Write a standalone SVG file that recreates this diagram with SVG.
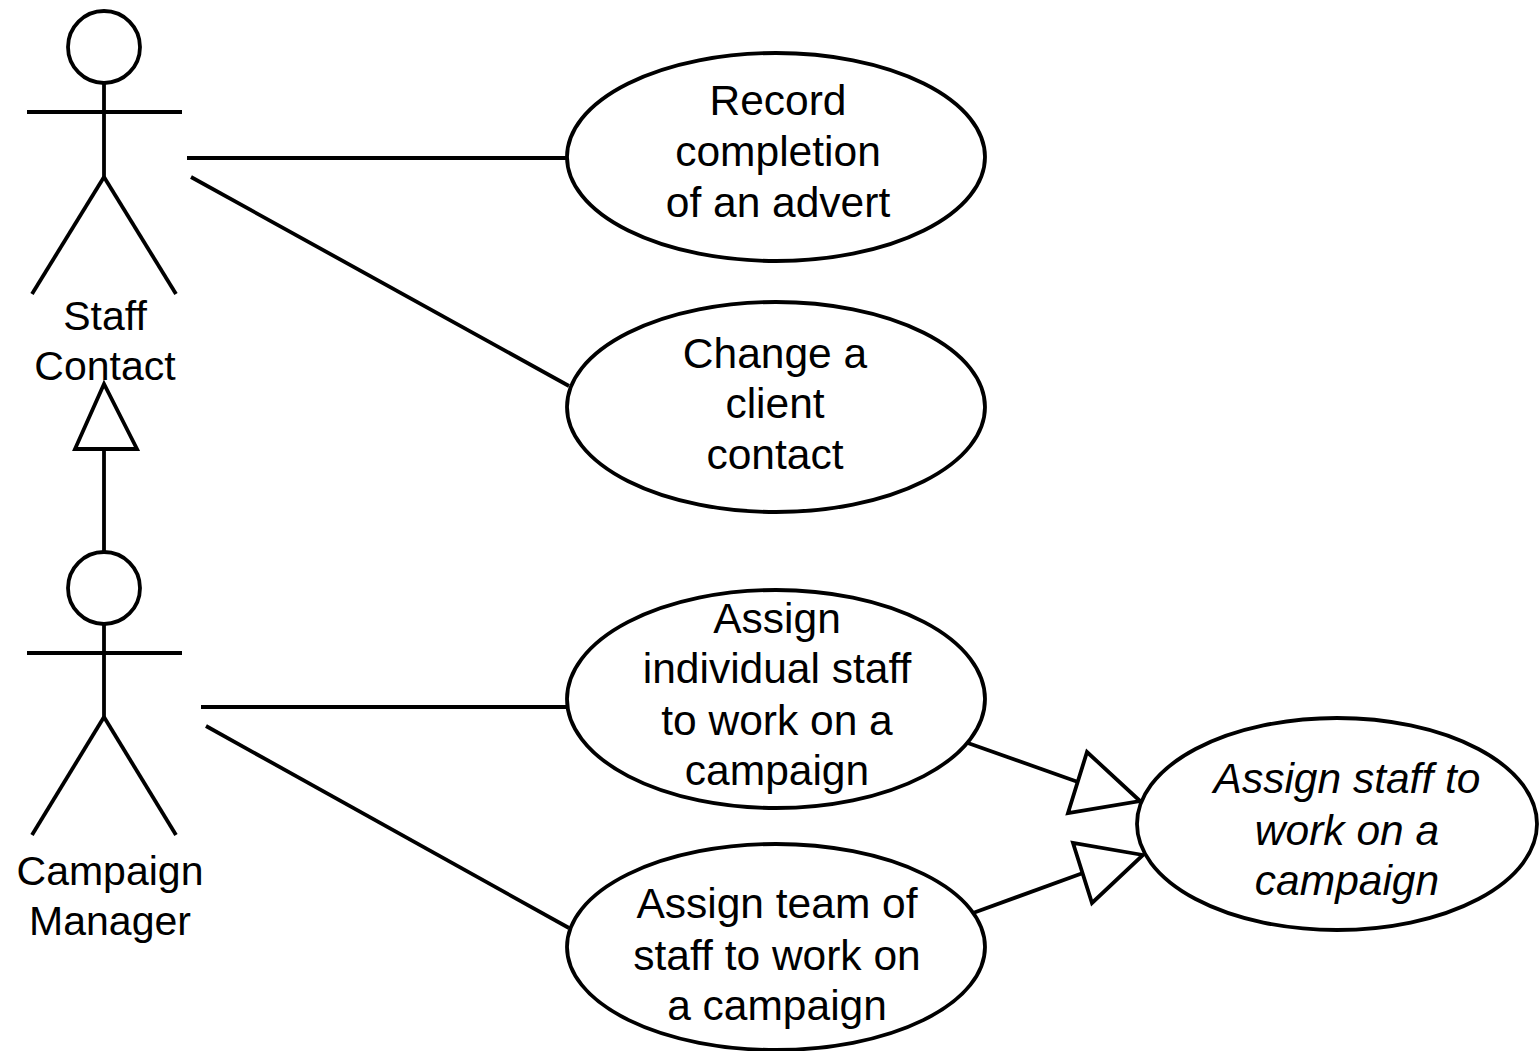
<svg xmlns="http://www.w3.org/2000/svg" width="1539" height="1051" viewBox="0 0 1539 1051">
<style>
.s{fill:none;stroke:#000;stroke-width:3.8}
.e{fill:#fff;stroke:#000;stroke-width:3.8}
.t{font-family:"Liberation Sans",Arial,sans-serif;font-size:42.5px;fill:#000;text-anchor:middle}
.a{font-size:41px}
.i{font-style:italic}
.tri{fill:#fff;stroke:#000;stroke-width:3.8;stroke-linejoin:miter}
</style>
<rect width="1539" height="1051" fill="#fff"/>
<g id="connectors">
<line class="s" x1="187" y1="158" x2="568" y2="158"/>
<line class="s" x1="191" y1="177" x2="569" y2="386"/>
<line class="s" x1="201" y1="707" x2="568" y2="707"/>
<line class="s" x1="206" y1="726" x2="569" y2="928"/>
<line class="s" x1="104" y1="449" x2="104" y2="551"/>
<polygon class="tri" points="104,384 75,449 137,449"/>
<line class="s" x1="965" y1="742" x2="1078" y2="782"/>
<polygon class="tri" points="1140,801 1087,752 1068,813"/>
<line class="s" x1="973" y1="913" x2="1083" y2="873"/>
<polygon class="tri" points="1143,855 1073,843 1092,903"/>
</g>
<g id="staff-contact">
<circle class="s" cx="104" cy="47" r="36"/>
<line class="s" x1="104" y1="83" x2="104" y2="177"/>
<line class="s" x1="27" y1="112" x2="182" y2="112"/>
<line class="s" x1="104" y1="177" x2="32" y2="294"/>
<line class="s" x1="104" y1="177" x2="176" y2="294"/>
<text class="t a" x="105" y="330">Staff</text>
<text class="t a" x="105" y="380">Contact</text>
</g>
<g id="campaign-manager">
<circle class="s" cx="104" cy="588" r="36"/>
<line class="s" x1="104" y1="624" x2="104" y2="717"/>
<line class="s" x1="27" y1="653" x2="182" y2="653"/>
<line class="s" x1="104" y1="717" x2="32" y2="835"/>
<line class="s" x1="104" y1="717" x2="176" y2="835"/>
<text class="t a" x="110" y="885">Campaign</text>
<text class="t a" x="110" y="935">Manager</text>
</g>
<g id="uc-record">
<ellipse class="e" cx="776" cy="157" rx="209" ry="104"/>
<text class="t" x="778" y="115">Record</text>
<text class="t" x="778" y="166">completion</text>
<text class="t" x="778" y="217">of an advert</text>
</g>
<g id="uc-change">
<ellipse class="e" cx="776" cy="407" rx="209" ry="105"/>
<text class="t" x="775" y="368">Change a</text>
<text class="t" x="775" y="418">client</text>
<text class="t" x="775" y="469">contact</text>
</g>
<g id="uc-individual">
<ellipse class="e" cx="776" cy="699" rx="209" ry="109"/>
<text class="t" x="777" y="633">Assign</text>
<text class="t" x="777" y="683">individual staff</text>
<text class="t" x="777" y="735">to work on a</text>
<text class="t" x="777" y="785">campaign</text>
</g>
<g id="uc-team">
<ellipse class="e" cx="776" cy="947" rx="209" ry="103"/>
<text class="t" x="777" y="918">Assign team of</text>
<text class="t" x="777" y="970">staff to work on</text>
<text class="t" x="777" y="1020">a campaign</text>
</g>
<g id="uc-assign-staff">
<ellipse class="e" cx="1337" cy="824" rx="200" ry="106"/>
<text class="t i" x="1347" y="793">Assign staff to</text>
<text class="t i" x="1347" y="845">work on a</text>
<text class="t i" x="1347" y="895">campaign</text>
</g>
</svg>
